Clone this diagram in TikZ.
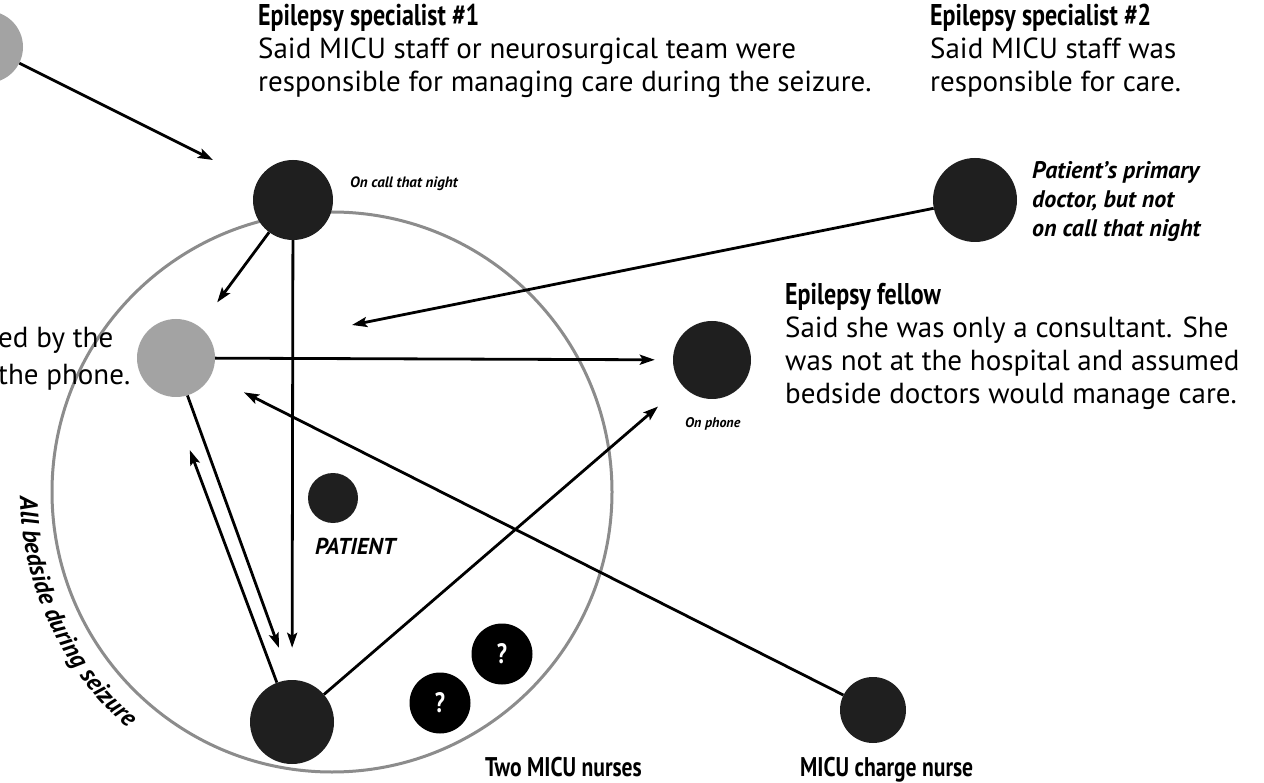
\documentclass[tikz,border=0pt]{standalone}
\usepackage{fontspec}
\setmainfont{PT Sans}
\newfontfamily\cnd{PT Sans}[FakeStretch=0.8]
\usetikzlibrary{arrows.meta,decorations.text}
\begin{document}
\begin{tikzpicture}[x=1pt,y=-1pt,
 conn/.style={line width=2.8pt,-{Stealth[length=15pt,width=10pt,inset=3pt]}},
 dark/.style={circle,fill=black!88,inner sep=0pt,minimum size=#1},
 pale/.style={circle,fill=black!36,inner sep=0pt,minimum size=#1},
 qdot/.style={circle,fill=black,inner sep=0pt,minimum size=61pt,text=white,font=\cnd\bfseries\fontsize{28}{28}\selectfont},
 ttl/.style={anchor=north west,inner sep=0pt,font=\cnd\bfseries\fontsize{30}{32}\selectfont},
 bdy/.style={anchor=north west,inner sep=0pt,align=left,font=\fontsize{29}{33}\selectfont},
 lbl/.style={anchor=north west,inner sep=0pt,align=left,font=\bfseries\itshape\fontsize{15}{17}\selectfont},
]
\useasboundingbox (0,0) rectangle (1264,783);
\fill[white] (0,0) rectangle (1264,783);

\node[draw=black!45,line width=3pt,circle,inner sep=0pt,minimum size=560pt] (ring) at (332,492) {};

\node[pale=72pt] (tl) at (-13,47) {};
\node[dark=80pt] (s1) at (293,200) {};
\node[dark=84pt] (s2) at (975,200) {};
\node[pale=78pt] (g) at (176,358) {};
\node[dark=78pt] (f) at (712,360) {};
\node[dark=50pt] (p) at (333,498) {};
\node[dark=84pt] (b) at (292,722) {};
\node[qdot] (q1) at (502,654) {?};
\node[qdot] (q2) at (440,703) {?};
\node[dark=66pt] (cn) at (873,710) {};

\coordinate (e1) at (213,160);
\coordinate (e2) at (352,325);

\draw[conn] (tl) -- (e1);
\draw[conn, shorten >=30pt] (s1) -- (g);
\draw[conn, shorten >=32pt] (s1) -- (b);
\draw[conn, shorten >=18pt] (g) -- (f);
\draw[conn] (s2) -- (e2);
\draw[conn, shorten >=37pt] (cn) -- (g);
\draw[conn, shorten >=32pt] (b) -- (f);
\draw[conn, shorten >=57pt] (b.111) -- (g.261);
\draw[conn, shorten >=34pt] (g.-73) -- (b.92);

\node[ttl] (t1) at (258,4) {Epilepsy specialist \#1};
\node[bdy] (d1) at (258,38) {Said MICU staff or neurosurgical team were\\responsible for managing care during the seizure.};
\node[ttl] (t2) at (930,4) {Epilepsy specialist \#2};
\node[bdy] (d2) at (930,38) {Said MICU staff was\\responsible for care.};
\node[ttl] (t3) at (785,283) {Epilepsy fellow};
\node[bdy] (d3) at (785,317) {Said she was only a consultant. She\\was not at the hospital and assumed\\bedside doctors would manage care.};
\node[lbl] (l1) at (350,177) {On call that night};
\node[lbl, font=\bfseries\itshape\fontsize{24}{29}\selectfont] (l2) at (1032,161) {Patient's primary\\doctor, but not\\on call that night};
\node[lbl, font=\bfseries\itshape\fontsize{14}{16}\selectfont] (l3) at (685,417) {On phone};
\node[lbl, font=\bfseries\itshape\fontsize{23}{23}\selectfont] (l4) at (315,538) {PATIENT};
\node[bdy, font=\fontsize{29}{37}\selectfont] (l5) at (-2,327) {ed by the\\the phone.};
\node[ttl, font=\cnd\bfseries\fontsize{27}{30}\selectfont] (t4) at (485,757) {Two MICU nurses};
\node[ttl, font=\cnd\bfseries\fontsize{27}{30}\selectfont] (t5) at (800,757) {MICU charge nurse};

\path[decorate, decoration={text along path, text align=center,
  text={|\bfseries\itshape\fontsize{25}{25}\selectfont|All bedside during seizure}}]
  (ring.center) ++(181:312) arc[start angle=181, end angle=129, radius=312];
\end{tikzpicture}
\end{document}
